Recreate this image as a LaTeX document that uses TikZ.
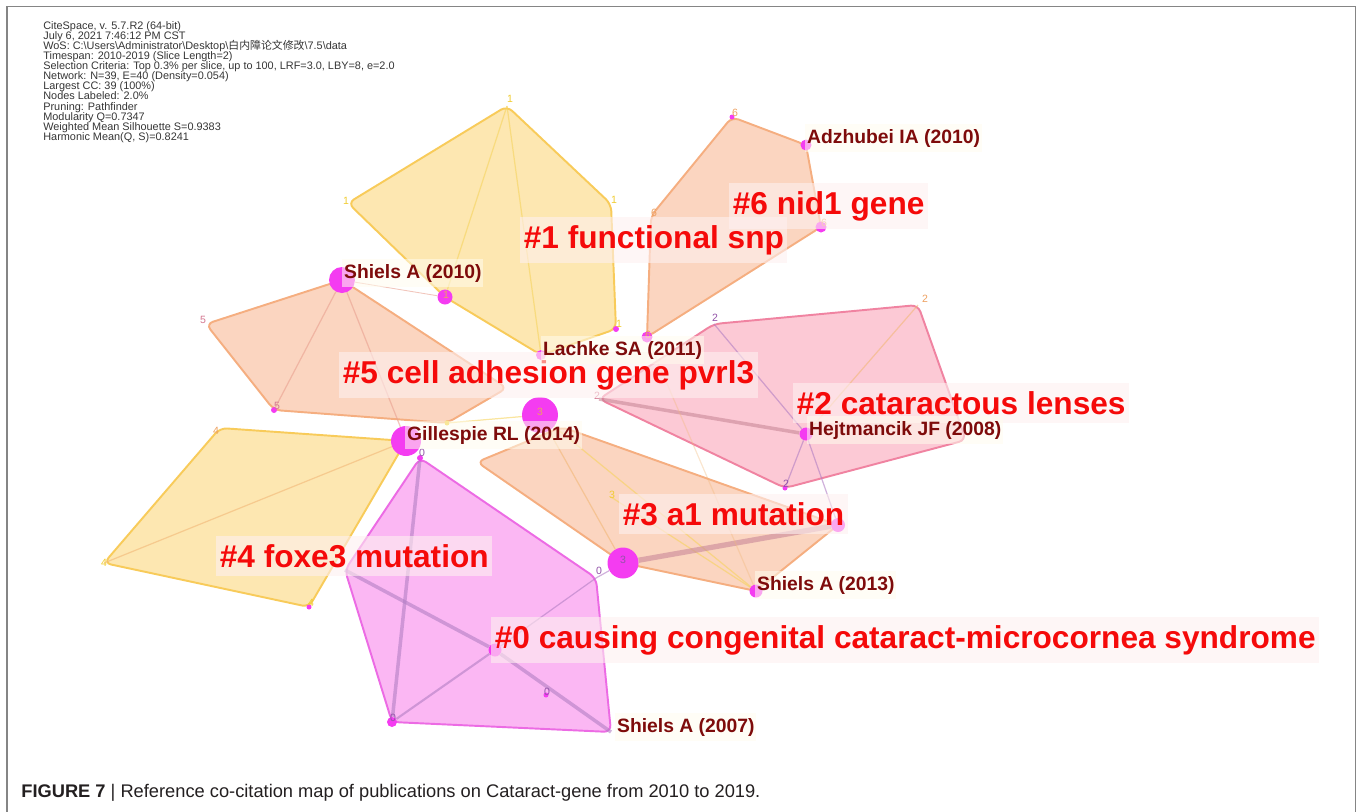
\documentclass[tikz,border=0pt]{standalone}
\usepackage{fontspec}
\setmainfont{Liberation Sans}
\newfontfamily\cjkfont{Noto Sans CJK SC}
\usetikzlibrary{backgrounds}
\definecolor{hullyel}{HTML}{FDE7B1}
\definecolor{edgeyel}{HTML}{F8CB5A}
\definecolor{hullpch}{HTML}{FBD5C0}
\definecolor{edgepch}{HTML}{F5AE80}
\definecolor{hullpnk}{HTML}{FCC9D5}
\definecolor{edgepnk}{HTML}{F083A1}
\definecolor{hullmag}{HTML}{FBB7F3}
\definecolor{edgemag}{HTML}{EC6BE4}
\definecolor{citnode}{HTML}{F43CF1}
\definecolor{clusred}{HTML}{F50A0A}
\definecolor{authred}{HTML}{7E0B0B}
\definecolor{clusbg}{HTML}{FEF0F0}
\definecolor{authbg}{HTML}{FFFCEE}
\definecolor{framegray}{HTML}{858585}
\definecolor{infotxt}{HTML}{353535}
\definecolor{captxt}{HTML}{231F20}
\definecolor{linkyel}{HTML}{F6D35E}
\definecolor{linksal}{HTML}{E9A090}
\definecolor{linkorg}{HTML}{F2B878}
\definecolor{linkpur}{HTML}{B27FC4}
\definecolor{linkbrn}{HTML}{C98898}
\definecolor{numyel}{HTML}{F0CC30}
\definecolor{numorg}{HTML}{EDA060}
\definecolor{numpnk}{HTML}{D47790}
\definecolor{numpur}{HTML}{9252A8}
\newcommand\infofont{\fontsize{6.2}{5.75}\selectfont\lineskiplimit=-5pt\relax}

\begin{document}
\begin{tikzpicture}[x=0.02cm,y=-0.02cm,
  cit/.style={circle,fill=citnode,inner sep=0pt},
  hull/.style={rounded corners=4pt,line width=1.1pt},
  link/.style={line width=0.7pt,draw opacity=0.6},
  clus/.style={anchor=west,text=clusred,fill=clusbg,fill opacity=0.6,text opacity=1,inner xsep=2pt,inner ysep=4.5pt,font=\fontsize{18}{20}\selectfont\bfseries},
  auth/.style={anchor=west,text=authred,fill=authbg,fill opacity=0.55,text opacity=1,inner xsep=1pt,inner ysep=3pt,font=\fontsize{11}{12}\selectfont\bfseries},
  num/.style={inner sep=0pt,font=\fontsize{6}{6}\selectfont}]
\useasboundingbox (0,0) rectangle (1357,812);
\draw[framegray,line width=0.8pt] (7,830) -- (7,6.5) -- (1355.5,6.5) -- (1355.5,830);

\node[anchor=north west,align=left,inner sep=0pt,text=infotxt,font=\infofont] (info) at (43,21) {CiteSpace, v. 5.7.R2 (64-bit)\\July 6, 2021 7:46:12 PM CST\\WoS: C:\textbackslash Users\textbackslash Administrator\textbackslash Desktop\textbackslash{\cjkfont 白内障论文修改}\textbackslash 7.5\textbackslash data\\Timespan: 2010-2019 (Slice Length=2)\\Selection Criteria: Top 0.3\% per slice, up to 100, LRF=3.0, LBY=8, e=2.0\\Network: N=39, E=40 (Density=0.054)\\Largest CC: 39 (100\%)\\Nodes Labeled: 2.0\%\\Pruning: Pathfinder\\Modularity Q=0.7347\\Weighted Mean Silhouette S=0.9383\\Harmonic Mean(Q, S)=0.8241};

\node[cit,minimum size=0.52cm] (sh10) at (342,280) {};
\node[cit,minimum size=0.3cm] (c1a) at (445,297) {};
\node[cit,minimum size=0.2cm] (lac) at (541,355) {};
\node[cit,minimum size=0.12cm] (c1b) at (616,329) {};
\node[cit,minimum size=0.22cm] (c6a) at (647,337) {};
\node[cit,minimum size=0.1cm] (c6b) at (732,117) {};
\node[cit,minimum size=0.22cm] (adz) at (806,145) {};
\node[cit,minimum size=0.22cm] (c6c) at (821,227) {};
\node[cit,minimum size=0.12cm] (c5a) at (274,410) {};
\node[cit,minimum size=0.1cm,fill=numyel] (c5b) at (447,423) {};
\node[cit,minimum size=0.26cm] (hej) at (806,434) {};
\node[cit,minimum size=0.1cm] (c2a) at (785,488) {};
\node[cit,minimum size=0.72cm] (c3a) at (540,415) {};
\node[cit,minimum size=0.6cm] (gil) at (406,441) {};
\node[cit,minimum size=0.12cm] (c0a) at (420,458) {};
\node[cit,minimum size=0.62cm] (c3b) at (623,563) {};
\node[cit,minimum size=0.28cm] (c3c) at (838,525) {};
\node[cit,minimum size=0.26cm] (sh13) at (756,591) {};
\node[cit,minimum size=0.26cm] (c0b) at (495,650) {};
\node[cit,minimum size=0.1cm] (c0c) at (546,695) {};
\node[cit,minimum size=0.2cm] (c0d) at (392,722) {};
\node[cit,minimum size=0.1cm] (c4a) at (309,607) {};
\coordinate (c1top) at (507,106);
\coordinate (c1l) at (348,203);
\coordinate (c1r) at (611,204);
\coordinate (c5l) at (206,324);
\coordinate (c5r) at (507,388);
\coordinate (c6l) at (651,216);
\coordinate (c2tl) at (714,324);
\coordinate (c2tr) at (918,305);
\coordinate (c2r) at (966,440);
\coordinate (c2l) at (599,399);
\coordinate (c3l) at (477,462);
\coordinate (c3t) at (562,427);
\coordinate (c3s) at (611,497);
\coordinate (c4tl) at (220,428);
\coordinate (c4l) at (104,563);
\coordinate (c0l) at (345,570);
\coordinate (c0r) at (596,578);
\coordinate (sh07) at (611,732);

\begin{scope}[on background layer]
\filldraw[hull,fill=hullyel,draw=edgeyel] (c1top) -- (c1r) -- (c1b.center) -- (lac.center) -- (c1a.center) -- (c1l) -- cycle;
\filldraw[hull,fill=hullpch,draw=edgepch] (c6b.center) -- (adz.center) -- (c6c.center) -- (c6a.center) -- (c6l) -- cycle;
\filldraw[hull,fill=hullpch,draw=edgepch] (sh10.center) -- (c5r) -- (c5b.center) -- (c5a.center) -- (c5l) -- cycle;
\filldraw[hull,fill=hullpnk,draw=edgepnk] (c2tl) -- (c2tr) -- (c2r) -- (c2a.center) -- (c2l) -- cycle;
\filldraw[hull,fill=hullpch,draw=edgepch] (c3l) -- (c3t) -- (c3c.center) -- (sh13.center) -- (c3b.center) -- cycle;
\filldraw[hull,fill=hullyel,draw=edgeyel] (c4tl) -- (gil.center) -- (c4a.center) -- (c4l) -- cycle;
\filldraw[hull,fill=hullmag,draw=edgemag] (c0a.center) -- (c0r) -- (sh07) -- (c0d.center) -- (c0l) -- cycle;
\draw[link,linkyel] (c1top) -- (c1a);
\draw[link,linkyel] (c1top) -- (lac);
\draw[link,linksal] (sh10) -- (c5a);
\draw[link,linksal] (sh10) -- (gil);
\draw[link,linksal,line width=0.5pt] (sh10) -- (c1a);
\draw[link,linkyel] (c5b) -- (c3a);
\draw[link,linkorg] (gil) -- (c4l);
\draw[link,linkpur,line width=2pt] (c0a) -- (c0d);
\draw[link,linkpur,line width=2pt] (c0l) -- (c0b) -- (sh07);
\draw[link,linkpur,line width=1.2pt] (c0d) -- (c0b);
\draw[link,linkpur] (c0b) -- (c0r);
\draw[link,linkpur] (c0r) -- (c3b);
\draw[link,linkyel] (c3a) -- (sh13);
\draw[link,linkyel] (c3s) -- (sh13);
\draw[link,linkorg] (c3a) -- (c3b);
\draw[link,linkbrn,line width=3pt] (c3b) -- (c3c);
\draw[link,linkbrn,line width=2pt] (c2l) -- (hej);
\draw[link,linkpur] (c2tl) -- (hej);
\draw[link,linkpur] (hej) -- (c2a);
\draw[link,linkpur] (hej) -- (c3c);
\draw[link,linkorg] (c2tr) -- (hej);
\draw[link,linkorg,draw opacity=0.35] (c6a) -- (sh13);
\end{scope}

\node[num,text=numyel] (k1a) at (510,99) {1};
\node[num,text=numyel] (k1b) at (346,201) {1};
\node[num,text=numyel] (k1c) at (614,200) {1};
\node[num,text=numyel] (k1d) at (619,324) {1};
\node[num,text=numorg] (k1e) at (446,295) {1};
\node[num,text=numorg] (k6a) at (735,113) {6};
\node[num,text=numorg] (k6b) at (654,213) {6};
\node[num,text=numorg] (k6c) at (648,335) {6};
\node[num,text=numorg] (k6d) at (824,223) {6};
\node[num,text=numpnk] (k5a) at (203,320) {5};
\node[num,text=numpnk] (k5b) at (277,406) {5};
\node[num,text=numpur] (k2a) at (715,318) {2};
\node[num,text=numorg] (k2b) at (925,299) {2};
\node[num,text=numpnk] (k2c) at (597,396) {2};
\node[num,text=numpur] (k2d) at (786,484) {2};
\node[num,text=numorg] (k3a) at (540,412) {3};
\node[num,text=numpur] (k3b) at (623,560) {3};
\node[num,text=numyel] (k3c) at (612,495) {3};
\node[num,text=numorg] (k4a) at (216,431) {4};
\node[num,text=numyel] (k4b) at (104,563) {4};
\node[num,text=numyel] (k4c) at (311,603) {4};
\node[num,text=numpur] (k0a) at (422,453) {0};
\node[num,text=numpur] (k0b) at (599,571) {0};
\node[num,text=numpur] (k0c) at (547,692) {0};
\node[num,text=numpur] (k0d) at (393,718) {0};

\node[clus] (l1) at (520,240) {\#1 functional snp};
\node[clus] (l6) at (729,206) {\#6 nid1 gene};
\node[clus] (l5) at (339,375) {\#5 cell adhesion gene pvrl3};
\node[clus] (l2) at (793,403) {\#2 cataractous lenses};
\node[clus] (l3) at (619,514) {\#3 a1 mutation};
\node[clus] (l4) at (216,556) {\#4 foxe3 mutation};
\node[clus] (l0) at (491,640) {\#0 causing congenital cataract-microcornea syndrome};

\node[auth] (tadz) at (805,138) {Adzhubei IA (2010)};
\node[auth] (tsh10) at (342,273) {Shiels A (2010)};
\node[auth] (tlac) at (541,350) {Lachke SA (2011)};
\node[auth] (tgil) at (405,435) {Gillespie RL (2014)};
\node[auth] (thej) at (807,430) {Hejtmancik JF (2008)};
\node[auth] (tsh13) at (755,585) {Shiels A (2013)};
\node[auth] (tsh07) at (615,727) {Shiels A (2007)};

\node[anchor=west,inner sep=0pt,text=captxt,font=\fontsize{10.4}{12}\selectfont] (cap) at (21,793) {\textbf{FIGURE 7} | Reference co-citation map of publications on Cataract-gene from 2010 to 2019.};
\end{tikzpicture}
\end{document}
